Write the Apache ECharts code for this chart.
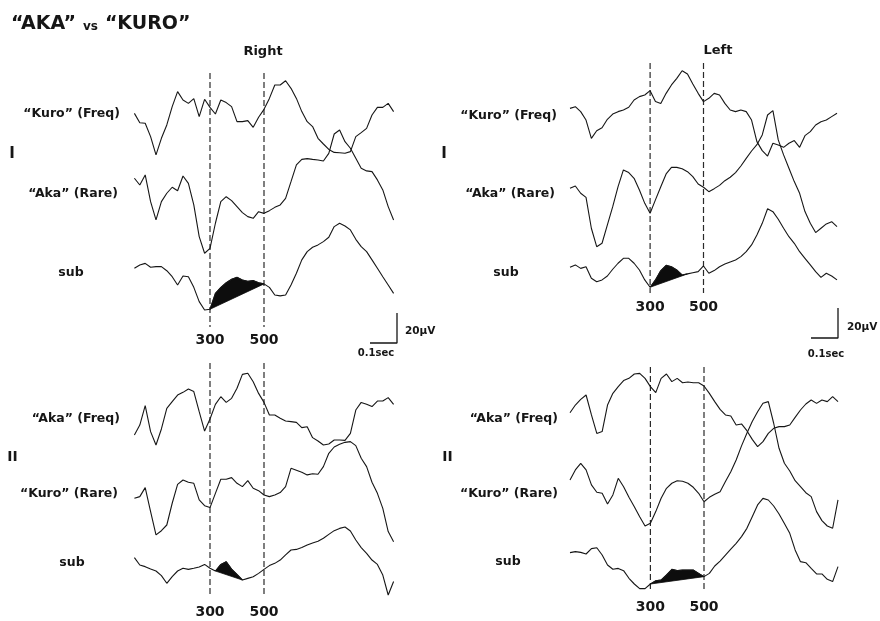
<!DOCTYPE html>
<html>
<head>
<meta charset="utf-8">
<script src="https://cdn.jsdelivr.net/npm/echarts@6/dist/echarts.min.js"></script>
<style>
  html, body { margin: 0; padding: 0; background: #fff; }
  #chart { width: 880px; height: 621px; }
</style>
</head>
<body>
<div id="chart"></div>
<script>
// Sample times in ms after stimulus onset
const timesRight = [20,40,60,80,100,120,140,160,180,200,220,240,260,280,300,320,340,360,380,400,
  420,440,460,480,500,520,540,560,580,600,620,640,660,680,700,720,740,760,780,800,
  820,840,860,880,900,920,940,960,980];
const timesLeft = [0,20,40,60,80,100,120,140,160,180,200,220,240,260,280,300,320,340,360,380,
  400,420,440,460,480,500,520,540,560,580,600,620,640,660,680,700,720,740,760,780,
  800,820,840,860,880,900,920,940,960,980,1000];

// Averaged ERP amplitudes (µV)
// Condition I, right hemisphere
const rightI_kuroFreq = [4.4,-1.8,-2.2,-11.1,-23.3,-12.2,-3.3,8.9,18.9,13.3,
  11.1,14.2,2.2,13.8,8.4,4,13.3,11.6,8.9,-1.1,
  -1.1,-0.4,-4.9,1.8,7.1,14.4,23.3,23.3,26.2,21.1,
  14.4,5.6,-1.1,-4.4,-12.2,-16,-19.6,-21.6,-21.8,-22.2,
  -21.1,-11.1,-8.4,-5.6,3.3,8.4,8.4,11.1,5.6];
const rightI_akaRare = [16.7,12.2,18.9,1.1,-11.1,1.1,6.7,10.7,8.4,18.2,
  13.3,-1.1,-22.2,-33.3,-30,-13.3,1.1,4.4,1.8,-2.2,
  -6.2,-8.9,-10,-5.6,-6.7,-4.9,-2.7,-1.1,3.3,14.4,
  25.6,29.3,29.8,29.3,28.9,28.2,33.3,46.2,48.9,41.1,
  36.7,30,23.3,21.6,21.1,15.6,8.9,-2.2,-11.1];
const rightI_sub = [10,12.2,13.3,10.7,11.1,11.1,8.4,4.4,-1.1,4.9,
  4.4,-2.7,-12.2,-17.8,-17.3,-6.7,-2.7,0.4,2.7,4,
  2.2,1.3,1.8,0.4,-0.4,-2.7,-7.8,-8.4,-7.8,-1.1,
  6.7,15.6,21.1,24,25.6,27.8,30.7,37.8,40,38.2,
  35.6,29.3,24.4,21.1,15.6,10,4.4,-1.1,-6.7];

// Condition I, left hemisphere
const leftI_kuroFreq = [1.1,2.2,-1.1,-6.7,-18.9,-13.8,-11.8,-6.2,-2.7,-1.1,
  0,1.8,6.7,8.9,10,12.9,5.6,4.4,11.1,16.7,
  21.1,26.2,24,17.3,11.1,5.6,7.8,11.1,10,4.4,
  0,-1.1,0,-1.1,-6.7,-21.1,-27.1,-30.7,-22.2,-23.3,
  -24.9,-22.2,-20.4,-24.9,-17.1,-14.4,-10,-7.8,-6.7,-4.4,
  -2.2];
const leftI_akaRare = [3.3,4.9,0,-2.7,-23.3,-35.6,-33.3,-21.1,-8.9,4.4,
  15.6,13.8,10,2.2,-6.7,-13.3,-4.4,4.4,12.9,17.3,
  17.3,16.4,14.4,11.1,6.2,4,1.1,3.1,5.3,8.4,
  10.7,13.8,18.2,23.3,28.2,32.4,38.9,52.2,55.1,35.6,
  25.6,16.7,7.8,0,-12.2,-20,-26.2,-23.3,-20.4,-18.9,
  -22.2];
const leftI_sub = [4,5.6,3.3,4.4,-3.3,-5.6,-4.4,-1.8,2.7,6.7,
  10,10,6.7,2.2,-4.4,-9.3,-4.4,1.8,5.3,4.4,
  2.2,-1.1,-0.4,0.4,1.1,4.9,0,1.8,4.4,6.2,
  7.6,8.9,11.1,14.4,18.9,25.6,33.3,43,41.1,36,
  30,24.4,20,14.4,10,5.6,1.1,-2.7,0,-1.8,
  -4.4];

// Condition II, right hemisphere
const rightII_akaFreq = [-13.3,-6.7,6.2,-11.1,-20,-9.3,4.4,8.9,13.3,15.1,
  17.3,15.6,2.2,-10.7,-2.7,7.1,12.2,8.4,11.1,17.8,
  27.1,27.8,22.2,14.4,8.4,0,0,-2.2,-4,-4.4,
  -4.9,-8.4,-7.8,-15.1,-17.3,-20,-19.3,-16.7,-16.7,-16.9,
  -12.2,3.3,8.4,7.1,5.6,9.3,9.3,11.6,7.1];
const rightII_kuroRare = [0,1.1,7.1,-8.9,-24.4,-21.6,-17.8,-3.3,9.3,12.2,
  10.7,10,-1.1,-4.9,-6.2,3.3,12.7,12.7,13.8,10,
  7.8,11.8,6.7,5.1,2.2,1.1,2.2,3.8,7.8,20,
  18.7,17.3,15.6,16.4,16,21.1,30,34.2,36,37.3,
  37.8,35.1,26.7,21.1,10.7,3.3,-6.7,-22.2,-28.9];
const rightII_sub = [4.9,0,-1.1,-2.7,-4,-7.1,-12.2,-7.8,-4,-2.2,
  -2.9,-2.2,-1.3,0.4,-2.2,-4,0.4,2.2,-2.7,-6.2,
  -10,-8.9,-7.8,-5.6,-2.9,-0.4,1.1,3.3,6.7,10,
  10.4,11.6,13.3,14.7,15.8,17.8,20.4,22.9,24.4,25.3,
  22.7,16.7,11.6,7.8,3.3,0.4,-6.7,-20,-11];

// Condition II, left hemisphere
const leftII_akaFreq = [-1.8,3.3,7.1,10,-3.3,-15.6,-14.4,3.3,11.1,15.6,
  19.6,21.1,24,24.4,21.1,15.6,11.6,21.1,24,18.9,
  21.1,18.2,18.7,18.2,18.2,16,11.1,5.6,0.4,-3.3,
  -4,-10,-9.3,-13.8,-19.6,-24.4,-21.1,-15.6,-12.2,-11.1,
  -11.1,-10,-4.9,0,4,6.7,4.4,6.7,5.6,8.9,
  5.6];
const leftII_kuroRare = [8.9,15.6,20,15.6,5.6,0.7,0,-7.1,-1.1,10,
  4.4,-2.7,-8.9,-15.6,-21.8,-20,-12.2,-3.3,3.3,6.7,
  8.4,8,6.7,4,0,-5.6,-2.7,-0.7,1.1,7.8,
  14.4,22.2,31.6,40,47.8,54.4,60,61.1,46.7,30,
  20,14.9,8.4,4.4,0.4,-2.2,-12.2,-18.2,-21.8,-23.3,
  -4.4];
const leftII_sub = [4.9,5.6,5.1,4,7.6,8.2,3.3,-3.3,-6.2,-5.6,
  -7.1,-12.2,-16,-19.1,-19.1,-16,-13.8,-13.3,-10,-6.2,
  -7.1,-6.7,-6.7,-6.7,-8.9,-11.1,-8.9,-4,-0.7,3.3,
  7.3,11.1,15.6,21.1,28.9,36.7,41.1,40,36,30.7,
  24.4,17.8,6.7,-1.1,-1.8,-5.6,-9.3,-9.3,-12.9,-14.4,
  -4.4];

// Latency markers (ms) and shaded windows of the difference wave (ms)
const markerTimes = [300, 500];
const fillRightI = [300, 500];
const fillLeftI = [300, 440];
const fillRightII = [320, 420];
const fillLeftII = [300, 500];

// Calibration bar: 100 ms by 20 µV
const calTime = 100;
const calAmp = 20;

const FONT = '"DejaVu Sans", "Liberation Sans", sans-serif';
const INK = '#161616';
const PX_PER_UV = 1.5;
const RANGE_WAVE = [-45, 65];
const RANGE_SUB = [-35, 65];

const panels = [
  { left: 129, width: 270, times: timesRight, dashTop: 73, dashBottom: 327, labelMargin: 6, fill: fillRightI,
    traces: [
      { values: rightI_kuroFreq, base: 120 },
      { values: rightI_akaRare, base: 203.3 },
      { values: rightI_sub, base: 283.3, sub: true }
    ] },
  { left: 570, width: 267, times: timesLeft, dashTop: 63, dashBottom: 293, labelMargin: 7, fill: fillLeftI,
    traces: [
      { values: leftI_kuroFreq, base: 110 },
      { values: leftI_akaRare, base: 193.3 },
      { values: leftI_sub, base: 273.3, sub: true }
    ] },
  { left: 129, width: 270, times: timesRight, dashTop: 363, dashBottom: 595, labelMargin: 10, fill: fillRightII,
    traces: [
      { values: rightII_akaFreq, base: 415 },
      { values: rightII_kuroRare, base: 498.3 },
      { values: rightII_sub, base: 565, sub: true }
    ] },
  { left: 570, width: 268, times: timesLeft, dashTop: 367, dashBottom: 590, labelMargin: 10, fill: fillLeftII,
    traces: [
      { values: leftII_akaFreq, base: 410 },
      { values: leftII_kuroRare, base: 493.3 },
      { values: leftII_sub, base: 560, sub: true }
    ] }
];

const grid = [], xAxis = [], yAxis = [], series = [];

function addAxes(box, xRange, yRange, xExtra) {
  const i = grid.length;
  grid.push(Object.assign({ containLabel: false }, box));
  xAxis.push(Object.assign({
    type: 'value', gridIndex: i, min: xRange[0], max: xRange[1],
    axisLine: { show: false }, axisTick: { show: false }, axisLabel: { show: false }, splitLine: { show: false }
  }, xExtra || {}));
  yAxis.push({
    type: 'value', gridIndex: i, min: yRange[0], max: yRange[1], show: false,
    axisLine: { show: false }, axisTick: { show: false }, axisLabel: { show: false }, splitLine: { show: false }
  });
  return i;
}

panels.forEach(p => {
  // dashed latency markers with their labels
  const gi = addAxes(
    { left: p.left, width: p.width, top: p.dashTop, height: p.dashBottom - p.dashTop },
    [0, 1000], [0, 1],
    {
      interval: 100,
      axisLabel: {
        show: true, margin: p.labelMargin, color: INK,
        fontFamily: FONT, fontWeight: 'bold', fontSize: 14,
        formatter: v => (markerTimes.indexOf(v) >= 0 ? String(v) : '')
      }
    }
  );
  series.push({
    type: 'custom', xAxisIndex: gi, yAxisIndex: gi, silent: true, z: 1,
    data: markerTimes.map(t => [t, 0]),
    renderItem: (params, api) => {
      const x = api.coord([api.value(0), 0])[0];
      const cs = params.coordSys;
      return {
        type: 'line',
        shape: { x1: x, y1: cs.y, x2: x, y2: cs.y + cs.height },
        style: { stroke: '#2a2a2a', lineWidth: 1.2, lineDash: [6, 3] }
      };
    }
  });

  p.traces.forEach(tr => {
    const r = tr.sub ? RANGE_SUB : RANGE_WAVE;
    const ti = addAxes(
      { left: p.left, width: p.width, top: tr.base - r[1] * PX_PER_UV, height: (r[1] - r[0]) * PX_PER_UV },
      [0, 1000], r
    );
    const pts = p.times.map((t, k) => [t, tr.values[k]]);
    if (tr.sub) {
      const win = pts.filter(q => q[0] >= p.fill[0] && q[0] <= p.fill[1]);
      series.push({
        type: 'custom', xAxisIndex: ti, yAxisIndex: ti, silent: true, z: 2,
        data: win,
        renderItem: (params, api) => {
          if (params.dataIndex !== 0) return null;
          return {
            type: 'polygon',
            shape: { points: win.map(q => api.coord(q)) },
            style: { fill: '#0d0d0d', stroke: '#0d0d0d', lineWidth: 0.8 }
          };
        }
      });
    }
    series.push({
      type: 'line', xAxisIndex: ti, yAxisIndex: ti, data: pts,
      showSymbol: false, symbol: 'none', clip: false, silent: true, z: 3,
      lineStyle: { color: INK, width: 1.1 }
    });
  });
});

// calibration bars
[{ left: 370, top: 313 }, { left: 811, top: 308 }].forEach(b => {
  const ci = addAxes({ left: b.left, top: b.top, width: 27, height: 30 }, [0, calTime], [0, calAmp]);
  series.push({
    type: 'line', xAxisIndex: ci, yAxisIndex: ci, silent: true, showSymbol: false, symbol: 'none', clip: false,
    data: [[0, 0], [calTime, 0], [calTime, calAmp]],
    lineStyle: { color: INK, width: 1.3 }
  });
});

function txt(text, x, y, size, align, extra) {
  return {
    type: 'text', x: x, y: y, silent: true,
    style: Object.assign({
      text: text, fill: INK, font: 'bold ' + size + 'px ' + FONT,
      textAlign: align || 'left', textVerticalAlign: 'middle'
    }, extra || {})
  };
}

const graphic = [
  txt('Right', 263, 52, 13, 'center'),
  txt('Left', 718, 51, 13, 'center'),

  txt('\u201CKuro\u201D (Freq)', 120, 114, 12.5, 'right'),
  txt('I', 12, 154, 15, 'center'),
  txt('\u201CAka\u201D (Rare)', 118, 194, 12.5, 'right'),
  txt('sub', 71, 273, 12.5, 'center'),

  txt('\u201CKuro\u201D (Freq)', 557, 116, 12.5, 'right'),
  txt('I', 444, 154, 15, 'center'),
  txt('\u201CAka\u201D (Rare)', 555, 194, 12.5, 'right'),
  txt('sub', 506, 273, 12.5, 'center'),

  txt('\u201CAka\u201D (Freq)', 120, 419, 12.5, 'right'),
  txt('II', 12.5, 457, 14, 'center'),
  txt('\u201CKuro\u201D (Rare)', 118, 494, 12.5, 'right'),
  txt('sub', 72, 563, 12.5, 'center'),

  txt('\u201CAka\u201D (Freq)', 558, 419, 12.5, 'right'),
  txt('II', 447.5, 457, 14, 'center'),
  txt('\u201CKuro\u201D (Rare)', 558, 494, 12.5, 'right'),
  txt('sub', 508, 562, 12.5, 'center'),

  txt('20\u00B5V', 405, 331, 10.5, 'left'),
  txt('0.1sec', 376, 353, 10, 'center'),
  txt('20\u00B5V', 847, 327, 10.5, 'left'),
  txt('0.1sec', 826, 354, 10, 'center')
];

const chart = echarts.init(document.getElementById('chart'), null, { renderer: 'canvas' });
chart.setOption({
  backgroundColor: '#ffffff',
  animation: false,
  title: {
    left: 6, top: 10,
    text: '{a|\u201CAKA\u201D} {b|vs} {a|\u201CKURO\u201D}',
    textStyle: {
      rich: {
        a: { fontFamily: FONT, fontWeight: 'bold', fontSize: 19, color: INK },
        b: { fontFamily: FONT, fontWeight: 'bold', fontSize: 12, color: INK, padding: [4, 2, 0, 2] }
      }
    }
  },
  grid: grid,
  xAxis: xAxis,
  yAxis: yAxis,
  series: series,
  graphic: graphic
});
</script>
</body>
</html>
